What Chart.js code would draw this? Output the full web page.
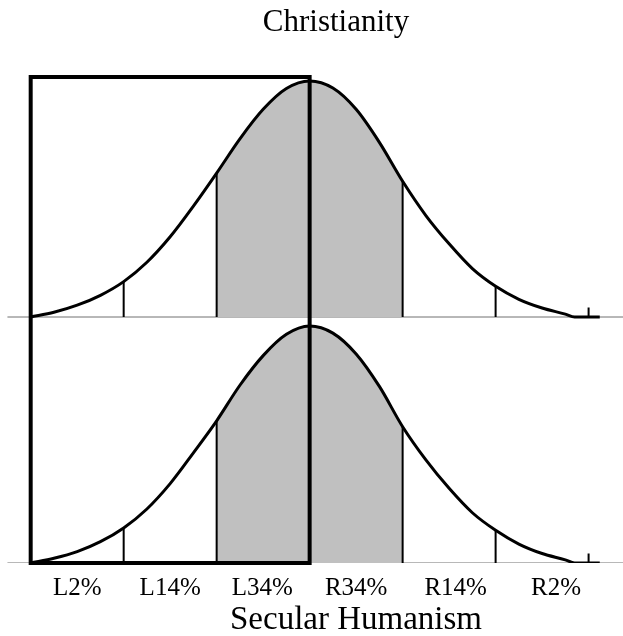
<!DOCTYPE html>
<html>
<head>
<meta charset="utf-8">
<script src="https://cdn.jsdelivr.net/npm/chart.js@4.4.1/dist/chart.umd.min.js"></script>
<style>
  html, body { margin: 0; padding: 0; background: #fff; }
  #wrap { width: 623px; height: 636px; }
</style>
</head>
<body>
<div id="wrap"><canvas id="bellChart"></canvas></div>
<script>
// texts
var chartTitle = 'Christianity';
var axisTitle = 'Secular Humanism';
var bandLabels = ['L2%', 'L14%', 'L34%', 'R34%', 'R14%', 'R2%'];
var bandCenters = [-2.5, -1.5, -0.51, 0.5, 1.57, 2.65];

// curve heights (share of the peak), x in standard deviations
var curveZ = [-3, -2.75, -2.5, -2.25, -2, -1.75, -1.5, -1.25, -1, -0.75, -0.5, -0.25, 0,
              0.25, 0.5, 0.75, 1, 1.25, 1.5, 1.75, 2, 2.25, 2.5, 2.75, 2.85, 3.12];
var topCurve = [0, 0.02, 0.05, 0.092, 0.15, 0.232, 0.34, 0.47, 0.61, 0.755, 0.88, 0.968, 1,
                0.97, 0.88, 0.74, 0.575, 0.43, 0.31, 0.205, 0.13, 0.075, 0.038, 0.012, 0, 0];
var bottomCurve = [0, 0.02, 0.048, 0.09, 0.148, 0.228, 0.335, 0.465, 0.6, 0.75, 0.875, 0.965, 1,
                   0.97, 0.882, 0.745, 0.575, 0.435, 0.315, 0.212, 0.138, 0.08, 0.04, 0.013, 0, 0];

var sigmaMarks = [-2, -1, 1, 2];
var tailMark = [3, 0.04];
var shadeRange = [-1, 1];
var boxRange = [-3, 0];
var baselineRange = [-3.25, 3.37];

function curvePoints(vals) {
    return curveZ.map(function (z, i) { return { x: z, y: vals[i] }; });
}

function shadePoints(vals) {
    return curvePoints(vals).filter(function (p) {
        return p.x >= shadeRange[0] && p.x <= shadeRange[1];
    });
}

function markPoints(vals) {
    var pts = [];
    sigmaMarks.forEach(function (z) {
        pts.push({ x: z, y: 0 }, { x: z, y: vals[curveZ.indexOf(z)] }, { x: z, y: null });
    });
    pts.push({ x: tailMark[0], y: 0 }, { x: tailMark[0], y: tailMark[1] });
    return pts;
}

function panelSets(vals, axis) {
    return [
        { data: curvePoints(vals), yAxisID: axis, borderColor: '#000', borderWidth: 3,
          cubicInterpolationMode: 'monotone', pointRadius: 0, fill: false, order: 1 },
        { data: markPoints(vals), yAxisID: axis, borderColor: '#000', borderWidth: 2,
          pointRadius: 0, fill: false, spanGaps: false, order: 2 },
        { data: shadePoints(vals), yAxisID: axis, borderWidth: 0, borderColor: 'rgba(0,0,0,0)',
          backgroundColor: '#c0c0c0', cubicInterpolationMode: 'monotone', pointRadius: 0,
          fill: 'origin', order: 3 },
        { data: [{ x: baselineRange[0], y: 0 }, { x: baselineRange[1], y: 0 }], yAxisID: axis,
          borderColor: '#707070', borderWidth: 1, pointRadius: 0, fill: false, order: 4 }
    ];
}

var overlay = {
    id: 'overlay',
    afterDatasetsDraw: function (chart) {
        var ctx = chart.ctx;
        var x = chart.scales.x, top = chart.scales.yTop, bottom = chart.scales.y;
        var l = x.getPixelForValue(boxRange[0]);
        var r = x.getPixelForValue(boxRange[1]);
        var t = top.getPixelForValue(top.max);
        var b = bottom.getPixelForValue(0);
        ctx.save();
        ctx.strokeStyle = '#000';
        ctx.lineWidth = 4;
        ctx.strokeRect(l, t, r - l, b - t);
        ctx.fillStyle = '#000';
        ctx.textAlign = 'center';
        ctx.textBaseline = 'alphabetic';
        ctx.font = '31px "Liberation Serif"';
        ctx.fillText(chartTitle, 336, 31);
        ctx.font = '33px "Liberation Serif"';
        ctx.fillText(axisTitle, 356, 629);
        ctx.restore();
    }
};

var ctx = document.getElementById('bellChart');
var bellChart = new Chart(ctx, {
    type: 'line',
    data: { datasets: panelSets(topCurve, 'yTop').concat(panelSets(bottomCurve, 'y')) },
    options: {
        responsive: true,
        maintainAspectRatio: false,
        animation: false,
        devicePixelRatio: 1,
        layout: { padding: { top: 77, bottom: 33, left: 0, right: 0 } },
        plugins: { legend: { display: false }, tooltip: { enabled: false } },
        scales: {
            x: {
                type: 'linear', min: -3.33, max: 3.37,
                grid: { display: false, drawTicks: false },
                border: { display: false },
                afterBuildTicks: function (axis) {
                    axis.ticks = bandCenters.map(function (v) { return { value: v }; });
                },
                afterFit: function (axis) { axis.height = 40; },
                ticks: {
                    autoSkip: false, maxRotation: 0, padding: 10, color: '#000',
                    font: { family: 'Liberation Serif', size: 25 },
                    callback: function (v, i) { return bandLabels[i]; }
                }
            },
            // the stack puts the later axis on top
            y: { display: false, stack: 'panels', stackWeight: 1, min: 0, max: 1.0253 },
            yTop: { display: false, stack: 'panels', stackWeight: 1, min: -0.0127, max: 1.017 }
        }
    },
    plugins: [overlay]
});
</script>
</body>
</html>
